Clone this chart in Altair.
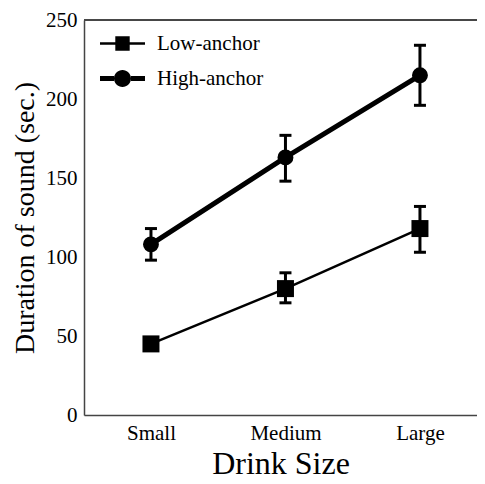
import altair as alt
import pandas as pd

sizes = ["Small", "Medium", "Large"]
series_names = ["Low-anchor", "High-anchor"]
low_mean = [45, 80, 118]
low_lo = [42, 71, 103]
low_hi = [49, 90, 132]
high_mean = [108, 163, 215]
high_lo = [98, 148, 196]
high_hi = [118, 177, 234]
y_ticks = [0, 50, 100, 150, 200, 250]

low = pd.DataFrame({"size": sizes, "mean": low_mean, "lo": low_lo, "hi": low_hi, "series": "Low-anchor"})
high = pd.DataFrame({"size": sizes, "mean": high_mean, "lo": high_lo, "hi": high_hi, "series": "High-anchor"})
both = pd.concat([low, high])

W, H = 393, 395
FONT = "Liberation Serif"

x = alt.X("size:N", sort=sizes, scale=alt.Scale(type="point", padding=0.461, align=0.54),
          axis=alt.Axis(title="Drink Size", labelAngle=0, ticks=False, domainColor="#444",
                        domainWidth=1.5, labelFont=FONT, labelFontSize=21, labelColor="black",
                        labelPadding=7, titleFont=FONT, titleFontSize=32, titleFontWeight="normal",
                        titleColor="black", titlePadding=5))
y = alt.Y("mean:Q", scale=alt.Scale(domain=[0, 250], nice=False),
          axis=alt.Axis(title="Duration of sound (sec.)", values=y_ticks, ticks=False, grid=False,
                        domainColor="#444", domainWidth=1.5, labelFont=FONT, labelFontSize=21,
                        labelColor="black", labelPadding=7, titleFont=FONT, titleFontSize=28,
                        titleFontWeight="normal", titleColor="black", titlePadding=6))

def err_layers(df):
    base = alt.Chart(df)
    bar = base.mark_rule(color="black", strokeWidth=3, opacity=1).encode(x=x, y=alt.Y("lo:Q"), y2="hi:Q")
    cap_lo = base.mark_tick(color="black", size=12, thickness=3, opacity=1).encode(x=x, y=alt.Y("lo:Q"))
    cap_hi = base.mark_tick(color="black", size=12, thickness=3, opacity=1).encode(x=x, y=alt.Y("hi:Q"))
    return [bar, cap_lo, cap_hi]

low_line = alt.Chart(low).mark_line(color="black", strokeWidth=2.5).encode(x=x, y=y)
low_pts = alt.Chart(low).mark_square(color="black", size=289, opacity=1).encode(x=x, y=y)
high_line = alt.Chart(high).mark_line(color="black", strokeWidth=5).encode(x=x, y=y)
high_pts = alt.Chart(high).mark_circle(color="black", size=254, opacity=1).encode(x=x, y=y)

low_path = "M-2.25,-0.12H-0.7V0.12H-2.25Z M0.7,-0.12H2.25V0.12H0.7Z M-0.72,-0.72H0.72V0.72H-0.72Z"
high_path = ("M-2.25,-0.25H-0.85V0.25H-2.25Z M0.85,-0.25H2.25V0.25H0.85Z "
             "M-0.85,0A0.85,0.85 0 1,1 0.85,0A0.85,0.85 0 1,1 -0.85,0Z")

legend_layer = alt.Chart(both).mark_point(filled=True, opacity=0, color="black", fill="black").encode(
    x=x, y=y,
    shape=alt.Shape("series:N",
                    scale=alt.Scale(domain=series_names, range=[low_path, high_path]),
                    legend=alt.Legend(title=None, orient="none", legendX=28, legendY=13,
                                      padding=0, symbolSize=400, symbolFillColor="black",
                                      symbolStrokeColor="black",
                                      symbolStrokeWidth=0, symbolOpacity=1,
                                      labelFont=FONT, labelFontSize=21, labelColor="black",
                                      labelOffset=24, rowPadding=13, labelLimit=300)))

top_border = alt.Chart(low).mark_rule(color="#444", strokeWidth=1.5).encode(
    y=alt.datum(250), x=alt.value(0), x2=alt.value(W))

chart = alt.layer(
    top_border, *err_layers(low), *err_layers(high),
    low_line, low_pts, high_line, high_pts, legend_layer
).properties(
    width=W, height=H,
    autosize=alt.AutoSizeParams(type="none"),
    padding={"left": 76, "top": 12, "right": 0, "bottom": 70},
).configure_view(stroke=None).configure(background="white")

chart.save("out.html", embed_options={"renderer": "svg", "actions": False})
